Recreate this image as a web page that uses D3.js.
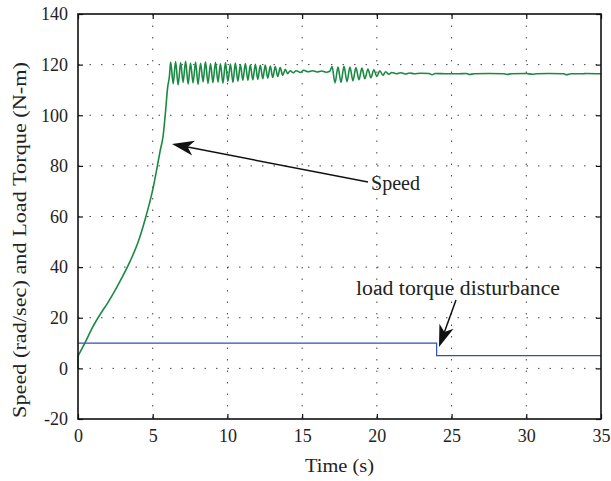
<!DOCTYPE html>
<html><head><meta charset="utf-8">
<script src="https://cdn.jsdelivr.net/npm/d3@7"></script>
<style>body{margin:0;background:#fff}svg{display:block}text{font-family:"Liberation Serif","Times New Roman",serif;fill:#222}</style>
</head><body><svg id="c" width="611" height="481"></svg>
<script>
// ---- data ----
const xTicks = [0,5,10,15,20,25,30,35];
const yTicks = [-20,0,20,40,60,80,100,120,140];
// speed: acceleration ramp
const rampT = [0,0.02,0.15,0.5,1.0,1.5,2.0,2.5,3.0,3.5,4.0,4.5,4.75,5.0,5.25,5.5,5.7,5.85,6.0,6.12];
const rampV = [0,5,6.5,10.5,16.5,21.5,26,31,36.5,42.5,49.5,59,64.5,70.5,78,86,92,101,111,115.5];
// speed: first oscillation burst
const osc1T = [6.2,6.37,6.53,6.7,6.87,7.03,7.2,7.37,7.53,7.7,7.87,8.03,8.2,8.37,8.53,8.7,8.87,9.03,9.2,9.37,9.53,9.7,9.87,10.03,10.2,10.37,10.53,10.7,10.87,11.03,11.2,11.37,11.53,11.7,11.87,12.03,12.2,12.37,12.53,12.7,12.87,13.03,13.2,13.37,13.53,13.7,13.87,14.03,14.2];
const osc1V = [121.0,112.5,121.2,112.0,120.8,113.0,121.3,112.3,120.6,112.8,121.0,112.2,120.5,113.2,121.1,112.6,120.4,112.9,120.9,113.1,120.3,112.7,120.8,113.4,120.2,113.0,120.6,113.5,120.0,113.8,120.4,113.8,119.8,114.0,120.1,114.2,119.7,114.4,119.8,114.6,119.4,114.9,119.2,115.3,118.8,115.8,118.2,116.4,117.6];
// speed: settling noise
const noiseT = [14.4,14.6,14.9,15.1,15.4,15.7,16.0,16.3,16.6,16.85];
const noiseV = [116.8,117.6,116.9,117.8,117.2,117.6,117.1,117.5,117.0,117.4];
// speed: second oscillation burst
const osc2T = [17.0,17.2,17.4,17.6,17.8,18.0,18.2,18.4,18.6,18.8,19.0,19.2,19.4,19.6,19.8,20.0,20.2,20.4,20.6,20.8,21.0,21.3,21.6,21.9,22.2,22.5,22.9];
const osc2V = [119.2,112.8,119.0,113.0,119.3,113.3,119.0,113.6,118.8,114.0,118.6,114.4,118.3,114.8,118.0,115.3,117.6,115.8,117.2,116.2,116.9,116.4,116.8,116.3,116.7,116.4,116.6];
// speed: steady state
const steadyT = [23.5,23.7,23.9,24.6,25.5,26.0,26.2,26.5,27.5,28.5,28.7,29.0,30.0,30.4,30.7,31.5,32.5,32.7,33.0,33.8,34.0,35.0];
const steadyV = [116.5,116.0,116.5,116.4,116.4,116.5,116.1,116.4,116.5,116.4,116.1,116.4,116.5,116.2,116.4,116.5,116.4,116.0,116.4,116.4,116.5,116.4];
// load torque
const loadT = [0,24,24,35];
const loadV = [10,10,5,5];

// ---- layout ----
const svg = d3.select('#c');
const L = 78, R = 601, T = 14, B = 419;
const x = d3.scaleLinear().domain([0,35]).range([L,R]);
const y = d3.scaleLinear().domain([-20,140]).range([B,T]);

// grid
const g = svg.append('g');
xTicks.slice(1,-1).forEach(t=>g.append('line').attr('x1',x(t)).attr('x2',x(t)).attr('y1',T).attr('y2',B)
  .attr('stroke','#444').attr('stroke-width',1).attr('stroke-dasharray','1.5,10'));
yTicks.slice(1,-1).forEach(t=>g.append('line').attr('y1',y(t)).attr('y2',y(t)).attr('x1',L).attr('x2',R)
  .attr('stroke','#444').attr('stroke-width',1).attr('stroke-dasharray','1.5,10'));

// series
const speedT = [].concat(rampT, osc1T, noiseT, osc2T, steadyT);
const speedV = [].concat(rampV, osc1V, noiseV, osc2V, steadyV);
const speed = speedT.map((t,i)=>[t,speedV[i]]);
const load = loadT.map((t,i)=>[t,loadV[i]]);
const line = d3.line().x(d=>x(d[0])).y(d=>y(d[1]));
svg.append('path').datum(load).attr('d',line).attr('fill','none').attr('stroke','#2f4fb8').attr('stroke-width',1.2);
svg.append('path').datum(speed).attr('d',line.curve(d3.curveMonotoneX)).attr('fill','none').attr('stroke','#1a8a43').attr('stroke-width',1.6).attr('stroke-linejoin','round');

// axes (ticks inside, all four sides)
const fs = '19px';
const fmt = d => String(d);
const ax = (gen, tr) => svg.append('g').attr('transform',tr).call(gen);
const axB = ax(d3.axisBottom(x).tickValues(xTicks).tickFormat(fmt).tickSize(-5).tickPadding(10).tickSizeOuter(0), `translate(0,${B})`);
const axT = ax(d3.axisTop(x).tickValues(xTicks).tickSize(-5).tickFormat('').tickSizeOuter(0), `translate(0,${T})`);
const axL = ax(d3.axisLeft(y).tickValues(yTicks).tickFormat(fmt).tickSize(-5).tickPadding(10).tickSizeOuter(0), `translate(${L},0)`);
const axR = ax(d3.axisRight(y).tickValues(yTicks).tickSize(-5).tickFormat('').tickSizeOuter(0), `translate(${R},0)`);
[axB,axT,axL,axR].forEach(a=>{
  a.select('.domain').remove();
  a.selectAll('line').attr('stroke','#111').attr('stroke-width',1.2);
  a.selectAll('text').attr('font-family','Liberation Serif').attr('font-size','18px').attr('fill','#222');
});
svg.append('rect').attr('x',L).attr('y',T).attr('width',R-L).attr('height',B-T)
  .attr('fill','none').attr('stroke','#111').attr('stroke-width',1.6);

// labels
svg.append('text').attr('x',339.5).attr('y',472).attr('text-anchor','middle').attr('font-size',fs)
  .attr('textLength',69).attr('lengthAdjust','spacingAndGlyphs').text('Time (s)');
svg.append('text').attr('transform',`translate(26,240) rotate(-90)`).attr('text-anchor','middle').attr('font-size',fs)
  .attr('textLength',356).attr('lengthAdjust','spacingAndGlyphs').text('Speed (rad/sec) and Load Torque (N-m)');

// annotations
function arrow(x1,y1,x2,y2){
  const a = Math.atan2(y2-y1,x2-x1), len=22, w=7.5, back=16;
  svg.append('line').attr('x1',x1).attr('y1',y1).attr('x2',x2-Math.cos(a)*back).attr('y2',y2-Math.sin(a)*back)
    .attr('stroke','#111').attr('stroke-width',1.5);
  const bx = x2-Math.cos(a)*len, by = y2-Math.sin(a)*len;
  const nx = -Math.sin(a), ny = Math.cos(a);
  const ix = x2-Math.cos(a)*back, iy = y2-Math.sin(a)*back;
  svg.append('path').attr('d',`M${x2},${y2}L${bx+nx*w},${by+ny*w}L${ix},${iy}L${bx-nx*w},${by-ny*w}Z`).attr('fill','#111');
}
arrow(368,182,172,144);
svg.append('text').attr('x',371).attr('y',190).attr('font-size','20px')
  .attr('textLength',49).attr('lengthAdjust','spacingAndGlyphs').text('Speed');
arrow(456,300,439,347);
svg.append('text').attr('x',356).attr('y',295).attr('font-size','20px')
  .attr('textLength',204).attr('lengthAdjust','spacingAndGlyphs').text('load torque disturbance');
</script></body></html>
